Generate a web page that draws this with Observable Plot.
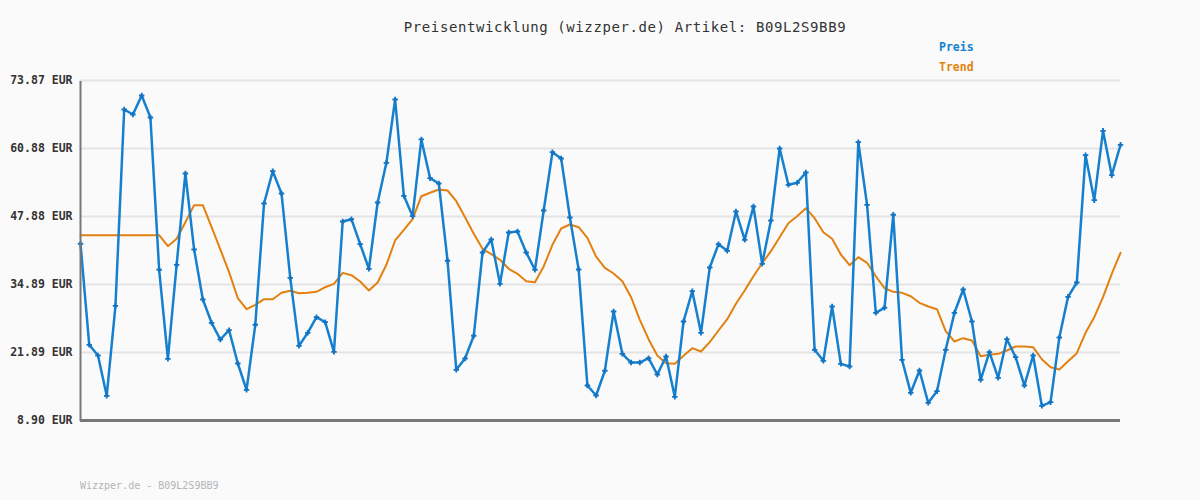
<!DOCTYPE html>
<html>
<head>
<meta charset="utf-8">
<script src="https://cdn.jsdelivr.net/npm/d3@7"></script>
<script src="https://cdn.jsdelivr.net/npm/@observablehq/plot@0.6"></script>
<style>
  html, body { margin: 0; padding: 0; background: #fafafa; }
  #wrap { position: relative; width: 1200px; height: 500px; background: #fafafa; font-family: "DejaVu Sans Mono", monospace; }
  #title { position: absolute; left: 0; width: 1250px; top: 19px; text-align: center; font-size: 14px; letter-spacing: 0.6px; color: #333; }
  .leg { position: absolute; left: 939px; font-size: 11.5px; font-weight: bold; }
  #footer { position: absolute; left: 80px; top: 480px; font-size: 10px; color: #b4b4b4; }
  #chart { position: absolute; left: 0; top: 0; }
</style>
</head>
<body>
<div id="wrap">
  <div id="chart"></div>
  <div id="title">Preisentwicklung (wizzper.de) Artikel: B09L2S9BB9</div>
  <div class="leg" style="top:40px;color:#1680cf">Preis</div>
  <div class="leg" style="top:60px;color:#e2810f">Trend</div>
  <div id="footer">Wizzper.de - B09L2S9BB9</div>
</div>
<script>
const yTicks = [8.90, 21.89, 34.89, 47.88, 60.88, 73.87];

const price = [
  42.67, 23.36, 21.32, 13.62, 30.82, 68.33, 67.37, 71.00, 66.80, 37.70,
  20.69, 38.65, 56.10, 41.58, 32.02, 27.57, 24.38, 26.16, 19.79, 14.76,
  27.19, 50.37, 56.54, 52.28, 36.17, 23.17, 25.66, 28.64, 27.69, 22.03,
  46.93, 47.37, 42.59, 37.89, 50.56, 58.14, 70.24, 51.84, 47.94, 62.61,
  55.21, 54.19, 39.42, 18.59, 20.75, 25.09, 41.00, 43.49, 35.02, 44.83,
  45.02, 41.00, 37.70, 49.03, 60.17, 58.97, 47.69, 37.75, 15.59, 13.68,
  18.40, 29.73, 21.64, 19.98, 19.98, 20.81, 17.69, 21.13, 13.42, 27.82,
  33.61, 25.66, 38.14, 42.59, 41.33, 48.84, 43.43, 49.79, 38.84, 47.12,
  60.88, 53.94, 54.32, 56.29, 22.41, 20.31, 30.68, 19.73, 19.22, 62.08,
  50.12, 29.48, 30.44, 48.21, 20.50, 14.19, 18.45, 12.28, 14.50, 22.41,
  29.48, 33.93, 27.82, 16.68, 21.95, 17.06, 24.44, 21.00, 15.59, 21.32,
  11.71, 12.40, 24.76, 32.54, 35.27, 59.60, 51.00, 64.26, 55.78, 61.58
];

const trend = [
  44.31, 44.31, 44.31, 44.31, 44.31, 44.31, 44.31, 44.31, 44.31, 44.31,
  42.21, 43.62, 46.80, 50.05, 50.05, 45.84, 41.58, 37.24, 32.27, 30.17,
  31.01, 32.08, 32.08, 33.30, 33.68, 33.23, 33.30, 33.49, 34.37, 35.02,
  37.11, 36.67, 35.46, 33.74, 35.27, 38.65, 43.30, 45.34, 47.37, 51.76,
  52.41, 53.04, 52.85, 50.81, 47.75, 44.58, 41.71, 40.68, 39.61, 37.89,
  36.93, 35.52, 35.33, 38.33, 42.47, 45.59, 46.35, 45.84, 43.81, 40.20,
  38.08, 36.99, 35.52, 32.46, 28.14, 24.44, 21.32, 19.85, 19.73, 21.26,
  22.72, 22.09, 23.87, 26.10, 28.26, 31.20, 33.74, 36.47, 38.96, 41.25,
  43.93, 46.60, 47.94, 49.47, 47.56, 44.88, 43.62, 40.62, 38.58, 40.11,
  39.03, 36.47, 34.18, 33.49, 33.30, 32.65, 31.39, 30.68, 30.17, 25.96,
  24.00, 24.63, 24.19, 21.19, 21.45, 21.64, 22.28, 23.04, 23.04, 22.91,
  20.61, 19.09, 18.65, 20.23, 21.76, 25.66, 28.64, 32.46, 36.93, 40.95
];

const data = price.map((p, i) => ({i, price: p, trend: trend[i]}));
const xMax = price.length - 1;

const chart = Plot.plot({
  width: 1200,
  height: 500,
  marginLeft: 80,
  marginRight: 80,
  marginTop: 80,
  marginBottom: 80,
  style: {background: "transparent", fontFamily: "DejaVu Sans Mono, monospace", overflow: "visible"},
  x: {domain: [0, xMax], axis: null},
  y: {domain: [yTicks[0], yTicks[yTicks.length - 1]], ticks: yTicks, label: null,
      tickFormat: d => d.toFixed(2) + " EUR", tickSize: 0, tickPadding: 8},
  marks: [
    Plot.ruleY(yTicks.slice(1), {stroke: "#e4e4e4", strokeWidth: 2}),
    Plot.axisY({ticks: yTicks, tickFormat: d => d.toFixed(2) + " EUR", tickSize: 0, tickPadding: 8,
      label: null, fontSize: 11.5, fontWeight: "bold", fill: "#333"}),
    Plot.line(data, {x: "i", y: "trend", stroke: "#e2810f", strokeWidth: 2}),
    Plot.line(data, {x: "i", y: "price", stroke: "#1680cf", strokeWidth: 2.5}),
    Plot.dot(data, {x: "i", y: "price", symbol: "cross", r: 2.3, fill: "#1273c2", stroke: null}),
    Plot.ruleX([0], {y1: yTicks[0], y2: yTicks[yTicks.length - 1], stroke: "#777", strokeWidth: 2, dy: 1}),
    Plot.ruleY([yTicks[0]], {x1: 0, x2: xMax, stroke: "#777", strokeWidth: 3})
  ]
});
document.getElementById("chart").appendChild(chart);
</script>
</body>
</html>
